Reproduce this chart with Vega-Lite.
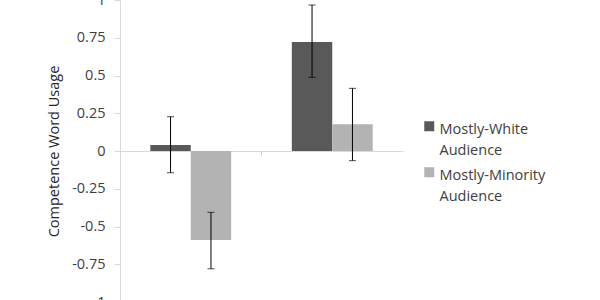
{
  "$schema": "https://vega.github.io/schema/vega-lite/v6.json",
  "width": 283,
  "height": 302,
  "autosize": "none",
  "padding": {"left": 120, "top": 0, "right": 197, "bottom": 0},
  "background": "white",
  "config": {"view": {"stroke": null}, "font": "Open Sans",
    "axisY": {"grid": false, "labelOverlap": false, "labelBound": false, "labelFlush": false,
      "domainColor": "#d9d9d9", "tickColor": "#d9d9d9", "tickSize": 6, "labelPadding": 9,
      "labelFontSize": 14.5, "labelColor": "#404040", "labelFont": "Open Sans",
      "titleFontSize": 14.5, "titleFontWeight": "normal", "titleColor": "#262626", "titlePadding": 10}},
  "data": {"values": [
    {"group": "A", "audience": "Mostly-White Audience", "value": 0.04, "lo": -0.144, "hi": 0.227},
    {"group": "A", "audience": "Mostly-Minority Audience", "value": -0.59, "lo": -0.78, "hi": -0.406},
    {"group": "B", "audience": "Mostly-White Audience", "value": 0.722, "lo": 0.488, "hi": 0.967},
    {"group": "B", "audience": "Mostly-Minority Audience", "value": 0.177, "lo": -0.064, "hi": 0.415}
  ]},
  "encoding": {
    "x": {"field": "group", "type": "nominal", "scale": {"paddingInner": 0, "paddingOuter": 0},
      "axis": {"title": null, "labels": false, "offset": -151, "bandPosition": 0, "domainColor": "#d9d9d9", "tickColor": "#d9d9d9", "tickSize": 5}},
    "xOffset": {"field": "audience", "type": "nominal", "sort": ["Mostly-White Audience", "Mostly-Minority Audience"], "scale": {"paddingOuter": 0.75, "paddingInner": 0}}
  },
  "layer": [
    {
      "mark": {"type": "bar"},
      "encoding": {
        "y": {"field": "value", "type": "quantitative", "scale": {"domain": [-1, 1], "nice": false},
          "axis": {"title": "Competence Word Usage", "values": [-1, -0.75, -0.5, -0.25, 0, 0.25, 0.5, 0.75, 1],
            "labelExpr": "datum.value == 0 ? '0' : (datum.value > 0 ? format(datum.value, '~g') : '-' + format(-datum.value, '~g'))"}},
        "color": {"field": "audience", "type": "nominal", "sort": ["Mostly-White Audience", "Mostly-Minority Audience"],
          "scale": {"domain": ["Mostly-White Audience", "Mostly-Minority Audience"], "range": ["#595959", "#b3b3b3"]},
          "legend": {"title": null, "orient": "none", "legendX": 302, "legendY": 119, "symbolType": "square", "symbolSize": 100,
            "symbolStrokeWidth": 0, "labelFontSize": 14.5, "labelColor": "#404040", "labelFont": "Open Sans",
            "labelExpr": "split(datum.label, ' ')", "labelOffset": 3, "rowPadding": 7, "labelLimit": 200, "labelBaseline": "top", "symbolOffset": 0,
            "encode": {"labels": {"update": {"lineHeight": {"value": 21}, "dy": {"value": -3}}}}}}
      }
    },
    {
      "mark": {"type": "rule", "color": "black", "strokeWidth": 1},
      "encoding": {"y": {"field": "lo", "type": "quantitative",
        "axis": {"title": "Competence Word Usage", "values": [-1, -0.75, -0.5, -0.25, 0, 0.25, 0.5, 0.75, 1],
            "labelExpr": "datum.value == 0 ? '0' : (datum.value > 0 ? format(datum.value, '~g') : '-' + format(-datum.value, '~g'))"}}, "y2": {"field": "hi"}}
    },
    {
      "mark": {"type": "tick", "color": "black", "thickness": 1, "size": 7},
      "encoding": {"y": {"field": "lo", "type": "quantitative",
        "axis": {"title": "Competence Word Usage", "values": [-1, -0.75, -0.5, -0.25, 0, 0.25, 0.5, 0.75, 1],
            "labelExpr": "datum.value == 0 ? '0' : (datum.value > 0 ? format(datum.value, '~g') : '-' + format(-datum.value, '~g'))"}}}
    },
    {
      "mark": {"type": "tick", "color": "black", "thickness": 1, "size": 7},
      "encoding": {"y": {"field": "hi", "type": "quantitative",
        "axis": {"title": "Competence Word Usage", "values": [-1, -0.75, -0.5, -0.25, 0, 0.25, 0.5, 0.75, 1],
            "labelExpr": "datum.value == 0 ? '0' : (datum.value > 0 ? format(datum.value, '~g') : '-' + format(-datum.value, '~g'))"}}}
    }
  ]
}
